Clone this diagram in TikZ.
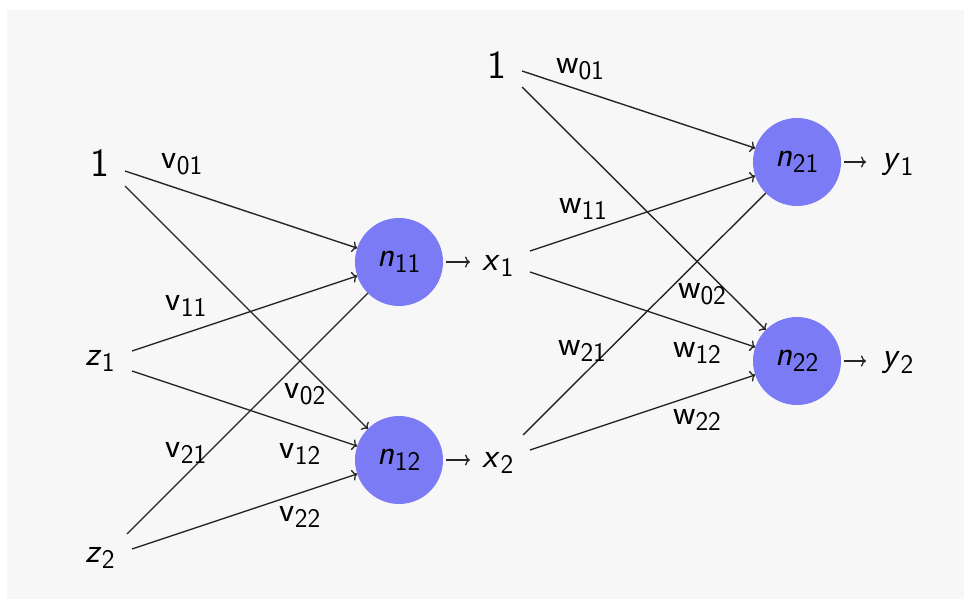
\documentclass[tikz,border=0pt]{standalone}
\usetikzlibrary{arrows.meta}
\definecolor{bg}{RGB}{247,247,247}
\definecolor{neuron}{RGB}{123,123,245}
\newcommand{\mysub}[1]{\raisebox{-6.5pt}{\fontsize{27}{29}\selectfont\sffamily\upshape #1}}
\newcommand{\mysv}[2]{\textsf{\textit{#1}}\mysub{#2}}
\newcommand{\mywt}[2]{\textsf{#1}\mysub{#2}}
\begin{document}
\begin{tikzpicture}[x=1pt,y=-1pt,
  neuronnode/.style={circle,fill=neuron,minimum size=88pt,inner sep=0pt,outer sep=0pt,font=\fontsize{35}{38}\selectfont},
  txt/.style={inner sep=0pt,font=\fontsize{35}{38}\selectfont},
  onetxt/.style={inner sep=0pt,font=\fontsize{40}{44}\selectfont\sffamily},
  wlabel/.style={inner sep=0pt,font=\fontsize{35}{38}\selectfont},
  edge/.style={line width=1.4pt,draw=black!85,-{To[length=5pt,width=11pt,line width=1.3pt]}},
  plain/.style={line width=1.4pt,draw=black!85},
]
\useasboundingbox (0,0) rectangle (964,599);
\fill[white] (0,0) rectangle (964,599);
\fill[bg] (7,10) rectangle (964,599);

% input layer
\node[onetxt] (oneL) at (100,163) {1};
\node[txt] (z1) at (100,361) {\mysv{z}{1}};
\node[txt] (z2) at (100,558) {\mysv{z}{2}};
\coordinate (oneLa) at (125,171);
\coordinate (oneLb) at (125,186);
\coordinate (z1a) at (132,351);
\coordinate (z1b) at (132,371);
\coordinate (z2a) at (127,534);
\coordinate (z2b) at (132,549);

% hidden layer
\node[neuronnode] (n11) at (399,262) {\mysv{n}{11}};
\node[neuronnode] (n12) at (399,460) {\mysv{n}{12}};
\node[txt] (x1) at (498,266) {\mysv{x}{1}};
\node[txt] (x2) at (498,463) {\mysv{x}{2}};

% second layer inputs
\node[onetxt] (oneR) at (497,65) {1};
\coordinate (oneRa) at (522,71);
\coordinate (oneRb) at (522,87);
\coordinate (x1a) at (530,251);
\coordinate (x1b) at (530,272);
\coordinate (x2a) at (523,435);
\coordinate (x2b) at (530,450);

% output layer
\node[neuronnode] (n21) at (797,162) {\mysv{n}{21}};
\node[neuronnode] (n22) at (797,361) {\mysv{n}{22}};
\node[txt] (y1) at (898,165) {\mysv{y}{1}};
\node[txt] (y2) at (898,363) {\mysv{y}{2}};

% first-layer connections
\draw[edge] (oneLa) -- (n11);
\draw[edge] (oneLb) -- (n12);
\draw[edge] (z1a) -- (n11);
\draw[edge] (z1b) -- (n12);
\draw[plain] (z2a) -- (n11);
\draw[edge] (z2b) -- (n12);

% second-layer connections
\draw[edge] (oneRa) -- (n21);
\draw[edge] (oneRb) -- (n22);
\draw[edge] (x1a) -- (n21);
\draw[edge] (x1b) -- (n22);
\draw[plain] (x2a) -- (n21);
\draw[edge] (x2b) -- (n22);

% outputs of neurons
\draw[edge,shorten <=3pt] (n11.east) -- (n11.east -| 470,0);
\draw[edge,shorten <=3pt] (n12.east) -- (n12.east -| 470,0);
\draw[edge,shorten <=3pt] (n21.east) -- (n21.east -| 866,0);
\draw[edge,shorten <=3pt] (n22.east) -- (n22.east -| 866,0);

% weight labels
\node[wlabel] (lv01) at (182,164) {\mywt{v}{01}};
\node[wlabel] (lv11) at (186,306) {\mywt{v}{11}};
\node[wlabel] (lv02) at (305,394) {\mywt{v}{02}};
\node[wlabel] (lv21) at (186,453) {\mywt{v}{21}};
\node[wlabel] (lv12) at (300,454) {\mywt{v}{12}};
\node[wlabel] (lv22) at (300,517) {\mywt{v}{22}};

\node[wlabel] (lw01) at (580,69) {\mywt{w}{01}};
\node[wlabel] (lw11) at (583,209) {\mywt{w}{11}};
\node[wlabel] (lw02) at (702,294) {\mywt{w}{02}};
\node[wlabel] (lw21) at (582,351) {\mywt{w}{21}};
\node[wlabel] (lw12) at (697,353) {\mywt{w}{12}};
\node[wlabel] (lw22) at (697,420) {\mywt{w}{22}};
\end{tikzpicture}
\end{document}
